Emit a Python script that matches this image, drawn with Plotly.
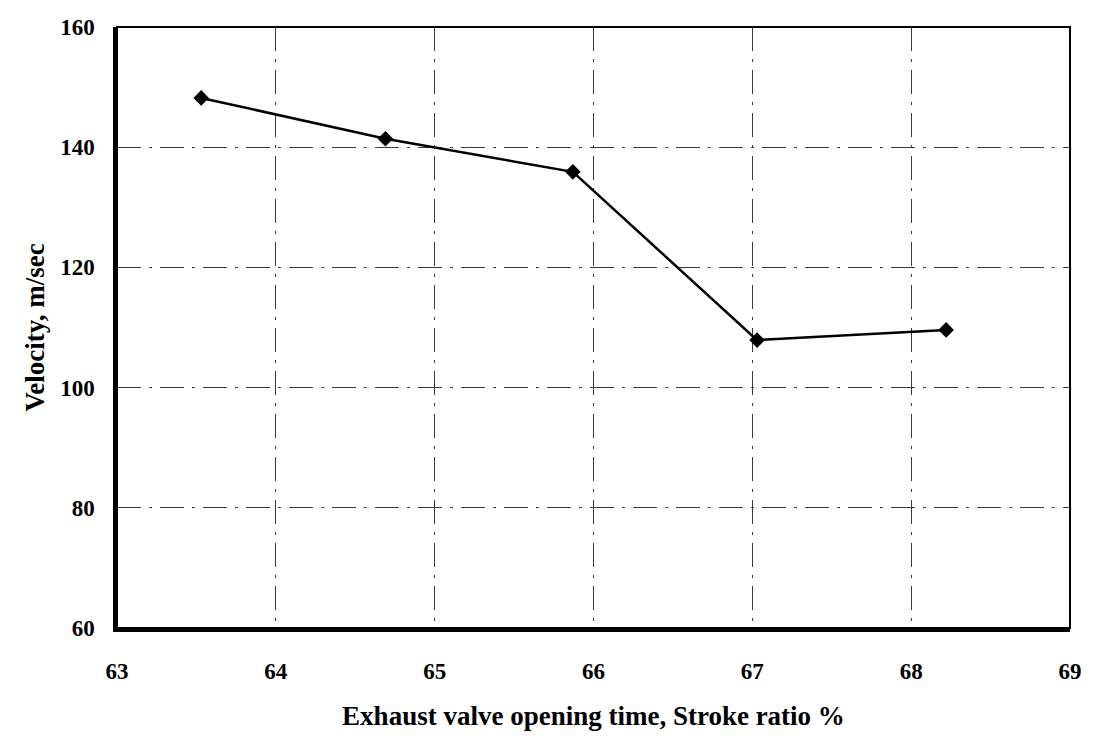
import plotly.graph_objects as go

stroke_ratio = [63.53, 64.69, 65.87, 67.03, 68.22]
velocity = [148.2, 141.4, 135.9, 107.9, 109.6]

font_family = "Liberation Serif"
grid_dash = "24px,8px,3px,8px"

fig = go.Figure()
fig.add_trace(go.Scatter(
    x=stroke_ratio, y=velocity, mode="lines+markers",
    line=dict(color="black", width=2.5),
    marker=dict(symbol="diamond", size=12, color="black"),
    showlegend=False,
))

fig.add_shape(type="rect", xref="paper", yref="paper", x0=0, y0=0, x1=1, y1=1,
              line=dict(color="black", width=2), layer="above")

fig.update_layout(
    width=1078, height=723,
    margin=dict(l=109, r=16, t=19, b=103),
    paper_bgcolor="white", plot_bgcolor="white",
    font=dict(family=font_family, color="black", size=23),
    xaxis=dict(
        range=[63, 69], dtick=1, tick0=63, automargin=False,
        showgrid=True, gridcolor="#3a3a3a", gridwidth=1, griddash=grid_dash,
        showline=True, linecolor="black", linewidth=3.5,
        zeroline=False, ticks="", ticklabelstandoff=20,
        tickfont=dict(family=font_family, size=23, color="black", weight="bold"),
        title=dict(text="Exhaust valve opening time, Stroke ratio %",
                   font=dict(family=font_family, size=27, color="black", weight="bold"),
                   standoff=43),
    ),
    yaxis=dict(
        range=[60, 160], dtick=20, automargin=False,
        showgrid=True, gridcolor="#3a3a3a", gridwidth=1, griddash=grid_dash,
        showline=True, linecolor="black", linewidth=3.5,
        zeroline=False, ticks="", ticklabelstandoff=14,
        tickfont=dict(family=font_family, size=23, color="black", weight="bold"),
        title=dict(text="Velocity, m/sec",
                   font=dict(family=font_family, size=27, color="black", weight="bold"),
                   standoff=9),
    ),
)

fig.write_html("out.html")
